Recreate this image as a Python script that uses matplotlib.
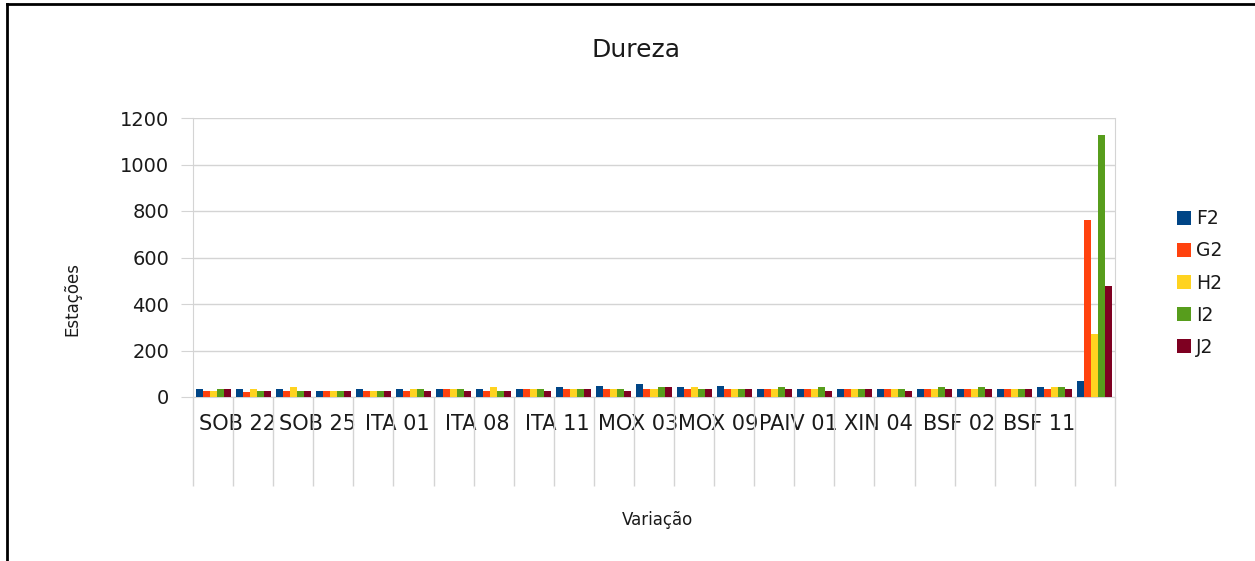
import numpy as np
import matplotlib.pyplot as plt
from matplotlib.lines import Line2D

plt.rcParams['font.family'] = ['DejaVu Sans']

# 23 stations, only every other label is shown on the axis
n_cat = 23
tick_labels = ["SOB 22", "SOB 25", "ITA 01", "ITA 08", "ITA 11", "MOX 03",
               "MOX 09", "PAIV 01", "XIN 04", "BSF 02", "BSF 11"]

series = ["F2", "G2", "H2", "I2", "J2"]
colors = ["#004586", "#ff420e", "#ffd320", "#579d1c", "#7e0021"]

f2 = [33, 33, 33, 26, 33, 33, 33, 33, 33, 42, 49, 56, 42, 49, 33, 33, 33, 33, 33, 33, 33, 42, 68]
g2 = [26, 22, 26, 26, 26, 26, 33, 26, 33, 33, 33, 33, 33, 33, 33, 33, 33, 33, 33, 33, 33, 33, 763]
h2 = [26, 33, 42, 26, 26, 33, 33, 42, 33, 33, 33, 33, 42, 33, 33, 33, 33, 33, 33, 33, 33, 42, 272]
i2 = [33, 26, 26, 26, 26, 33, 33, 26, 33, 33, 33, 42, 33, 33, 42, 42, 33, 33, 42, 42, 33, 42, 1128]
j2 = [33, 26, 26, 26, 26, 26, 26, 26, 26, 33, 26, 42, 33, 33, 33, 26, 33, 26, 33, 33, 33, 33, 477]
values = [f2, g2, h2, i2, j2]

grid_c = "#d4d4d4"
text_c = "#1a1a1a"

fig = plt.figure(figsize=(12.55, 5.61), dpi=100)
ax = fig.add_axes([193 / 1255, 1 - 397 / 561, 922 / 1255, 279 / 561])

x = np.arange(n_cat)
w = 0.175
for k, (name, vals, c) in enumerate(zip(series, values, colors)):
    ax.bar(x + (k - 2) * w, vals, width=w, color=c, label=name, zorder=3)

ax.set_xlim(-0.5, n_cat - 0.5)
ax.set_ylim(0, 1200)
ax.set_yticks(range(0, 1201, 200))
ax.yaxis.grid(True, color=grid_c, linewidth=1, zorder=0)
ax.tick_params(axis="y", length=9, color=grid_c, labelsize=14, labelcolor=text_c, pad=8)

# category separators running down through the label area
ax.set_xticks(np.arange(n_cat + 1) - 0.5, minor=True)
ax.tick_params(axis="x", which="minor", length=64, color=grid_c, width=1)
ax.set_xticks(np.arange(1, n_cat, 2) - 0.4)
ax.set_xticklabels(tick_labels, fontsize=15, color=text_c)
ax.tick_params(axis="x", which="major", length=0, pad=12)

for s in ["left", "right", "bottom"]:
    ax.spines[s].set_color(grid_c)
ax.spines["top"].set_visible(False)

fig.text(636 / 1255, 1 - 50 / 561, "Dureza", fontsize=18, ha="center", va="center", color=text_c)
fig.text(657 / 1255, 1 - 520 / 561, "Variação", fontsize=12, ha="center", va="center", color=text_c)
fig.text(72 / 1255, 1 - 299 / 561, "Estações", fontsize=12, rotation=90, ha="center", va="center", color=text_c)

ax.legend(loc="center left", bbox_to_anchor=(1169 / 1255, 1 - 283 / 561), bbox_transform=fig.transFigure,
          frameon=False, fontsize=13.5, handlelength=0.75, handleheight=0.75, handletextpad=0.3,
          labelspacing=0.7, borderaxespad=0, labelcolor=text_c)

# page border (left and top edges only)
fig.add_artist(Line2D([7 / 1255, 7 / 1255], [0, 1 - 4 / 561], transform=fig.transFigure, color="black", linewidth=2))
fig.add_artist(Line2D([7 / 1255, 1], [1 - 4 / 561, 1 - 4 / 561], transform=fig.transFigure, color="black", linewidth=2))

fig.savefig("out.png", dpi=100, facecolor="white")
